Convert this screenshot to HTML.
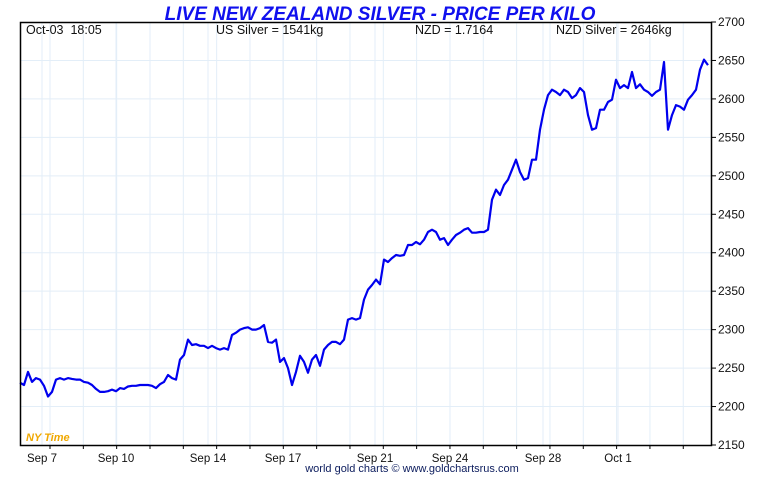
<!DOCTYPE html>
<html><head><meta charset="utf-8"><style>
body{margin:0;background:#fff;width:760px;height:475px;overflow:hidden;font-family:"Liberation Sans",sans-serif}
svg text{font-family:"Liberation Sans",sans-serif}
</style></head><body>
<svg id="c" width="760" height="475">
<text x="380" y="20" text-anchor="middle" font-size="19" font-weight="bold" font-style="italic" fill="#1010ee">LIVE NEW ZEALAND SILVER - PRICE PER KILO</text>
<g id="grid"></g>
<g id="axes"></g>
<path id="line" fill="none" stroke="#0000ee" stroke-width="2.2" stroke-linejoin="round"></path>
<rect x="20.5" y="22.5" width="691" height="423" fill="none" stroke="#000" stroke-width="1.5"/>
<text x="26" y="34" font-size="12.5" fill="#111" xml:space="preserve" style="white-space:pre">Oct-03  18:05</text>
<text x="216" y="34" font-size="12.5" fill="#111">US Silver = 1541kg</text>
<text x="415" y="34" font-size="12.5" fill="#111">NZD = 1.7164</text>
<text x="556" y="34" font-size="12.5" fill="#111">NZD Silver = 2646kg</text>
<text x="26" y="441" font-size="11" font-weight="bold" font-style="italic" fill="#f0a800">NY Time</text>
<text x="412" y="472" text-anchor="middle" font-size="11" fill="#102060">world gold charts © www.goldchartsrus.com</text>
</svg>
<script>
const prices=[2231,2228,2245,2232,2237,2235,2227,2213,2219,2235,2237,2235,2237,2236,2235,2235,2232,2231,2228,2223,2219,2219,2220,2222,2220,2224,2223,2226,2227,2227,2228,2228,2228,2227,2224,2229,2232,2241,2237,2235,2261,2267,2287,2280,2281,2279,2279,2276,2279,2276,2274,2276,2274,2293,2296,2300,2302,2303,2300,2300,2302,2306,2284,2283,2287,2258,2263,2250,2228,2245,2266,2258,2244,2261,2267,2253,2274,2280,2284,2284,2281,2287,2313,2315,2313,2315,2339,2352,2358,2365,2359,2391,2388,2393,2397,2396,2397,2410,2410,2414,2411,2417,2427,2430,2427,2417,2419,2410,2417,2423,2426,2430,2432,2426,2426,2427,2427,2430,2469,2482,2475,2488,2495,2508,2521,2505,2495,2497,2521,2521,2560,2586,2605,2612,2609,2605,2612,2609,2601,2605,2614,2609,2579,2560,2562,2586,2586,2596,2599,2625,2614,2618,2614,2635,2614,2619,2612,2609,2604,2609,2612,2648,2560,2579,2592,2590,2586,2599,2605,2612,2638,2651,2644];
const yTicks=[2150,2200,2250,2300,2350,2400,2450,2500,2550,2600,2650,2700];
const xLabels=["Sep 7","Sep 10","Sep 14","Sep 17","Sep 21","Sep 24","Sep 28","Oct 1"];
const xLabelIdx=[5.5,24,47,65.75,88.75,107.5,130.75,149.5];
const NS='http://www.w3.org/2000/svg';
const X0=20,X1=708,Y0=445,Y1=22;
function xs(i){return X0+i*(X1-X0)/(prices.length-1);}
function ys(v){return Y0-(v-2150)/(2700-2150)*(Y0-Y1);}
function mk(t,a,p){const e=document.createElementNS(NS,t);for(const k in a)e.setAttribute(k,a[k]);p.appendChild(e);return e;}
const grid=document.getElementById('grid'),axes=document.getElementById('axes');
yTicks.forEach(v=>{const y=ys(v);
 if(v>2150&&v<2700){const l=mk('line',{x1:21,x2:711,y1:y,y2:y,stroke:'#e3eef8','stroke-width':1},grid);
 
 }
 const tk=mk('line',{x1:711,x2:716,y1:y,y2:y,stroke:'#000'},axes);
 
 
 const t=mk('text',{x:718,y:y+4,'font-size':12,fill:'#111'},axes);t.textContent=v;
 
 
});
for(let x=50;x<711;x+=33.33){const l=mk('line',{x1:x,x2:x,y1:23,y2:445,stroke:'#e3eef8'},grid);
 
 
 const tk=mk('line',{x1:x,x2:x,y1:445,y2:449,stroke:'#000'},axes);
 
 }
xLabels.forEach((s,k)=>{const x=xs(xLabelIdx[k]);
 const l=mk('line',{x1:x,x2:x,y1:23,y2:445,stroke:'#e3eef8'},grid);
 
 
 const t=mk('text',{x:x,y:462,'text-anchor':'middle','font-size':11.5,fill:'#111'},axes);t.textContent=s;
 
 
});
document.getElementById('line').setAttribute('d',prices.map((v,i)=>(i?'L':'M')+xs(i).toFixed(1)+' '+ys(v).toFixed(1)).join(''));
</script>
</body></html>
